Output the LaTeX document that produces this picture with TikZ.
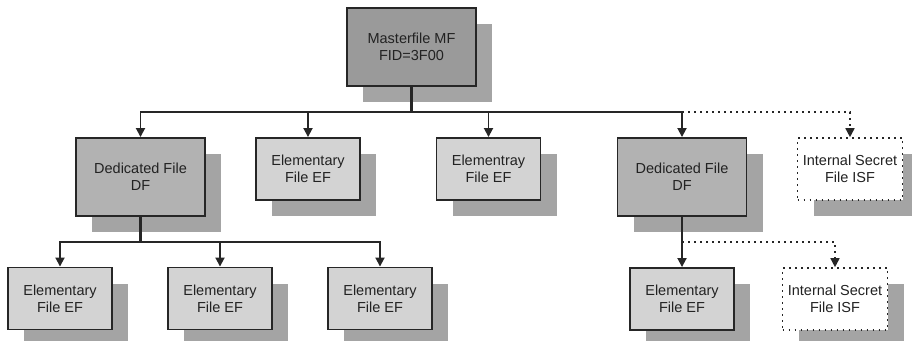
\documentclass[tikz,border=0pt]{standalone}
\usepackage{fontspec}
\setmainfont{Liberation Sans}
\usetikzlibrary{arrows.meta,shadows}

\definecolor{edgecol}{HTML}{262626}
\definecolor{textcol}{HTML}{222222}
\definecolor{mffill}{HTML}{9A9A9A}
\definecolor{dffill}{HTML}{B2B2B2}
\definecolor{effill}{HTML}{D3D3D3}
\definecolor{shadowcol}{HTML}{A4A4A4}

\tikzset{
  filebox/.style={draw=edgecol, line width=1.9pt, align=center, inner sep=0pt,
    text=textcol, font=\fontsize{14.5}{17}\selectfont,
    drop shadow={shadow xshift=16pt, shadow yshift=-16pt, opacity=1, fill=shadowcol, draw=none}},
  masterbox/.style={filebox, fill=mffill, minimum width=129pt, minimum height=78pt},
  dedbox/.style={filebox, fill=dffill, minimum width=129pt, minimum height=78pt},
  elembox/.style={filebox, fill=effill, minimum width=104pt, minimum height=62pt},
  secretbox/.style={filebox, fill=white, dash pattern=on 1.6pt off 4.4pt, line width=1.6pt,
    minimum width=105pt, minimum height=62pt},
  link/.style={draw=edgecol, line width=1.8pt},
  linkarr/.style={link, -{Triangle[width=9pt,length=9pt]}},
  dotarr/.style={draw=edgecol, line width=1.6pt, dash pattern=on 1.6pt off 4.4pt,
    -{Triangle[width=9pt,length=9pt]}},
}

\begin{document}
\begin{tikzpicture}[x=1pt, y=-1pt]
  \useasboundingbox[fill=white] (0,0) rectangle (912,340);

  % root of the file tree
  \node[masterbox] (mf) at (411.5,47) {Masterfile MF\\FID=3F00};

  % first level
  \node[dedbox]    (df1)  at (140.5,177) {Dedicated File\\DF};
  \node[elembox]   (ef1)  at (308,169)   {Elementary\\File EF};
  \node[elembox]   (ef2)  at (488.5,169) {Elementray\\File EF};
  \node[dedbox]    (df2)  at (682,177)   {Dedicated File\\DF};
  \node[secretbox] (isf1) at (850,169)   {Internal Secret\\File ISF};

  % second level
  \node[elembox]   (ef3)  at (60,298.5)  {Elementary\\File EF};
  \node[elembox]   (ef4)  at (220,298.5) {Elementary\\File EF};
  \node[elembox]   (ef5)  at (380,298.5) {Elementary\\File EF};
  \node[elembox]   (ef6)  at (682,299)   {Elementary\\File EF};
  \node[secretbox] (isf2) at (835,299)   {Internal Secret\\File ISF};

  % bus lines
  \coordinate (bus1) at (411.5,112);
  \coordinate (bus2) at (140.5,242);
  \coordinate (bus3) at (682,242);

  % masterfile branches
  \draw[link, line width=2.2pt] (mf.south) -- (bus1);
  \draw[linkarr] (bus1) -| (df1.north);
  \draw[linkarr] (bus1) -| (ef1.north);
  \draw[linkarr] (bus1) -| (ef2.north);
  \draw[linkarr] (bus1) -| (df2.north);
  \draw[dotarr] (df2.north |- bus1) -| (isf1.north);

  % left dedicated file branches
  \draw[link, line width=2.2pt] (df1.south) -- (bus2);
  \draw[linkarr] (bus2) -| (ef3.north);
  \draw[linkarr] (bus2) -| (ef4.north);
  \draw[linkarr] (bus2) -| (ef5.north);

  % right dedicated file branches
  \draw[linkarr] (df2.south) -- (ef6.north);
  \draw[dotarr] (bus3) -| (isf2.north);
\end{tikzpicture}
\end{document}
